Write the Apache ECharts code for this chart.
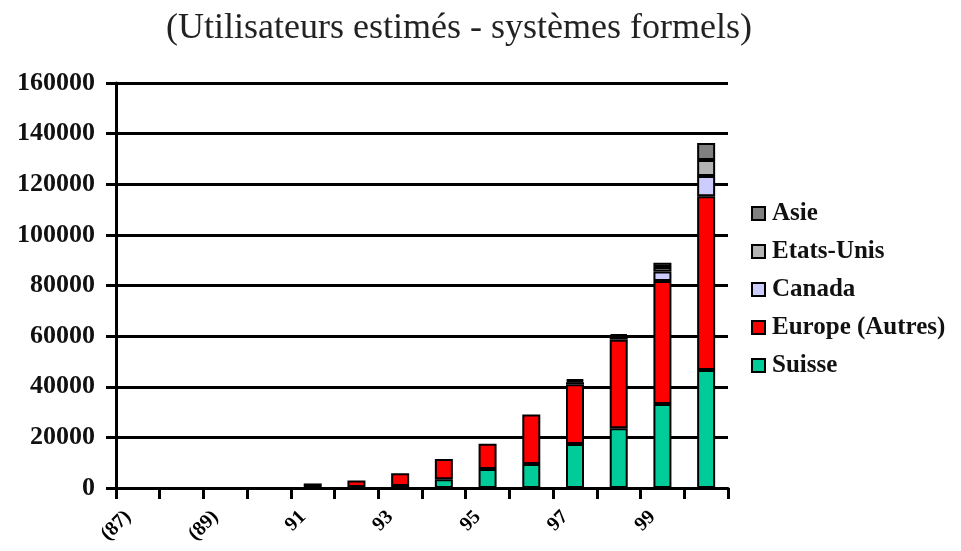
<!DOCTYPE html>
<html>
<head>
<meta charset="utf-8">
<title>Utilisateurs estimés</title>
<script src="https://cdn.jsdelivr.net/npm/echarts@6/dist/echarts.min.js"></script>
<style>
  html, body { margin: 0; padding: 0; background: #fff; }
  #main { width: 961px; height: 551px; }
</style>
</head>
<body>
<div id="main"></div>
<script>
// données
var years = ["1987", "1988", "1989", "1990", "1991", "1992", "1993", "1994", "1995", "1996", "1997", "1998", "1999", "2000"];
var tickLabels = ["(87)", "", "(89)", "", "91", "", "93", "", "95", "", "97", "", "99", ""];
var suisse = [null, null, null, null, 400, 400, 800, 3500, 7500, 9500, 17400, 23600, 33200, 46600];
var europe = [null, null, null, null, 1400, 2600, 5000, 8000, 10000, 19500, 23600, 35000, 48600, 68700];
var canada = [null, null, null, null, null, null, null, null, null, null, 800, 800, 3700, 8000];
var etatsUnis = [null, null, null, null, null, null, null, null, null, null, 600, 700, 1800, 6300];
var asie = [null, null, null, null, null, null, null, null, null, null, 500, 600, 1700, 6700];
var yTicks = [0, 20000, 40000, 60000, 80000, 100000, 120000, 140000, 160000];

var serif = "'Liberation Serif', 'Times New Roman', serif";

function bar(name, data, color) {
  return {
    name: name,
    type: "bar",
    stack: "total",
    barWidth: 18,
    data: data,
    itemStyle: {
      color: color,
      borderColor: "#000",
      borderWidth: 2
    }
  };
}

var option = {
  animation: false,
  backgroundColor: "#fff",
  title: {
    text: "(Utilisateurs estimés - systèmes formels)",
    left: 454,
    top: 6,
    textAlign: "center",
    textStyle: {
      fontFamily: serif,
      fontWeight: "normal",
      fontSize: 36,
      color: "#222"
    }
  },
  legend: {
    orient: "vertical",
    left: 746,
    top: 196,
    itemWidth: 13,
    itemHeight: 13,
    itemGap: 13,
    icon: "rect",
    selectedMode: false,
    data: ["Asie", "Etats-Unis", "Canada", "Europe (Autres)", "Suisse"],
    textStyle: {
      fontFamily: serif,
      fontWeight: "bold",
      fontSize: 25,
      lineHeight: 22,
      color: "#111",
      padding: [0, 0, 0, 2]
    }
  },
  grid: {
    left: 116,
    right: 233,
    top: 83,
    bottom: 63,
    containLabel: false
  },
  xAxis: {
    type: "category",
    data: years,
    axisLine: { lineStyle: { color: "#000", width: 3 } },
    axisTick: {
      show: true,
      interval: 0,
      length: 11,
      lineStyle: { color: "#000", width: 3 }
    },
    axisLabel: {
      interval: 1,
      rotate: 45,
      margin: 16,
      padding: [0, 14, 0, 0],
      fontFamily: serif,
      fontWeight: "bold",
      fontSize: 20,
      color: "#000",
      formatter: function (v, i) { return tickLabels[i]; }
    },
    splitLine: { show: false }
  },
  yAxis: {
    type: "value",
    min: yTicks[0],
    max: yTicks[yTicks.length - 1],
    interval: 20000,
    axisLine: { show: true, lineStyle: { color: "#000", width: 3 } },
    axisTick: { show: true, length: 10, lineStyle: { color: "#000", width: 3 } },
    axisLabel: {
      margin: 21,
      fontFamily: serif,
      fontWeight: "bold",
      fontSize: 26,
      color: "#111",
      formatter: function (v) { return String(v); }
    },
    splitLine: { lineStyle: { color: "#000", width: 3 } }
  },
  series: [
    bar("Suisse", suisse, "#00cc99"),
    bar("Europe (Autres)", europe, "#ff0000"),
    bar("Canada", canada, "#ccccff"),
    bar("Etats-Unis", etatsUnis, "#b4b4b4"),
    bar("Asie", asie, "#808080")
  ]
};

var myChart = echarts.init(document.getElementById("main"));
myChart.setOption(option);
</script>
</body>
</html>
